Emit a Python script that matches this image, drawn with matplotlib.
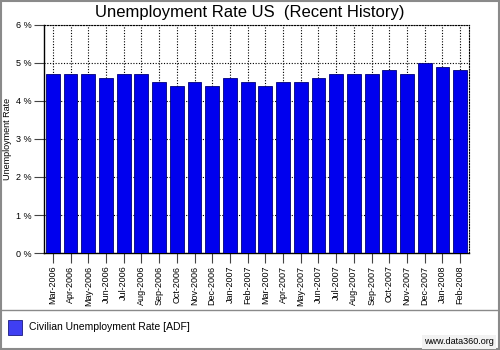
import matplotlib
matplotlib.use("Agg")
import matplotlib.pyplot as plt
from matplotlib.patches import Rectangle
from matplotlib.lines import Line2D

plt.rcParams['font.family'] = ['Liberation Sans', 'DejaVu Sans']

months = ["Mar-2006", "Apr-2006", "May-2006", "Jun-2006", "Jul-2006", "Aug-2006",
          "Sep-2006", "Oct-2006", "Nov-2006", "Dec-2006", "Jan-2007", "Feb-2007",
          "Mar-2007", "Apr-2007", "May-2007", "Jun-2007", "Jul-2007", "Aug-2007",
          "Sep-2007", "Oct-2007", "Nov-2007", "Dec-2007", "Jan-2008", "Feb-2008"]
rates = [4.7, 4.7, 4.7, 4.6, 4.7, 4.7, 4.5, 4.4, 4.5, 4.4, 4.6, 4.5,
         4.4, 4.5, 4.5, 4.6, 4.7, 4.7, 4.7, 4.8, 4.7, 5.0, 4.9, 4.8]
y_ticks = [0, 1, 2, 3, 4, 5, 6]
y_tick_labels = ["0 %", "1 %", "2 %", "3 %", "4 %", "5 %", "6 %"]

title = "Unemployment Rate US  (Recent History)"
series_name = "Civilian Unemployment Rate [ADF]"
y_label = "Unemployment Rate"
credit = "www.data360.org"

fig = plt.figure(figsize=(5, 3.5), dpi=100)
fig.patch.set_facecolor("white")

ax = fig.add_axes([0.088, 0.277, 0.85, 0.652])
x = list(range(len(months)))
ax.bar(x, rates, width=0.78, color="#0000ee", edgecolor="#00007a",
       linewidth=0.6, zorder=3)

ax.set_xlim(-0.5, len(months) - 0.5)
ax.set_ylim(0, 6)
ax.set_yticks(y_ticks)
ax.set_yticklabels(y_tick_labels, fontsize=6.5)
ax.set_xticks(x)
ax.set_xticklabels(months, rotation=90, fontsize=6.5)
ax.set_ylabel(y_label, fontsize=6.5)
ax.yaxis.set_label_coords(-0.075, 0.5)

ax.grid(True, linestyle=(0, (1, 1.5)), color="black", linewidth=0.8, zorder=0)
ax.set_axisbelow(True)

for side in ("top", "right"):
    ax.spines[side].set_linestyle((0, (1, 1.5)))
    ax.spines[side].set_linewidth(0.8)
for side in ("left", "bottom"):
    ax.spines[side].set_linewidth(1.0)

ax.tick_params(axis="both", length=7, width=0.8, color="#444444", pad=2)
for t in ax.xaxis.get_ticklines() + ax.yaxis.get_ticklines():
    t.set_linestyle(":")

fig.text(0.5, 0.965, title, ha="center", va="center", fontsize=12)

# separator between chart and legend
fig.add_artist(Line2D([0.0, 1.0], [1 - 310 / 350, 1 - 310 / 350],
                      color="#8a8a8a", linewidth=1.0))
# outer frame
fig.add_artist(Rectangle((0.002, 0.002), 0.996, 0.996, fill=False,
                         edgecolor="#8a8a8a", linewidth=1.5,
                         transform=fig.transFigure))

# legend entry
fig.add_artist(Rectangle((8 / 500, 1 - 335 / 350), 14 / 500, 15 / 350,
                         facecolor="#3f3ff2", edgecolor="#1a1a80",
                         linewidth=0.6, transform=fig.transFigure))
fig.text(29 / 500, 1 - 327 / 350, series_name, ha="left", va="center",
         fontsize=7.5)

fig.text(494 / 500, 1 - 342 / 350, credit, ha="right", va="center",
         fontsize=6.5, bbox=dict(facecolor="#f2f2f2", edgecolor="none", pad=1.5))

fig.savefig("out.png", dpi=100)
